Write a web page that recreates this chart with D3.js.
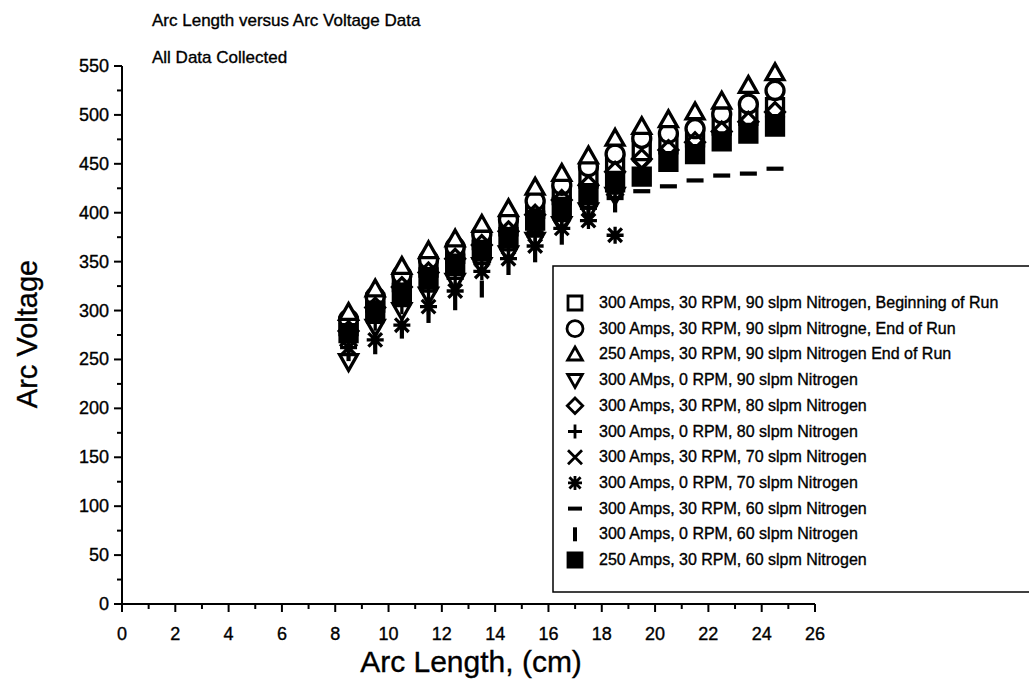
<!DOCTYPE html>
<html>
<head>
<meta charset="utf-8">
<script src="https://cdn.jsdelivr.net/npm/d3@7"></script>
<style>
  body { margin: 0; background: #fff; }
  svg { font-family: "Liberation Sans", Arial, sans-serif; }
  svg text { fill: #000; stroke: #000; stroke-width: 0.35px; }
</style>
</head>
<body>
<div id="chart"></div>
<script>
// arc lengths (cm) where readings were taken
const arcLengths = [8.5, 9.5, 10.5, 11.5, 12.5, 13.5, 14.5, 15.5, 16.5, 17.5, 18.5, 19.5, 20.5, 21.5, 22.5, 23.5, 24.5]

// arc voltage per series (30 RPM runs cover all lengths, 0 RPM runs stop at 18.5)
const v300Rpm30N90Begin = [284, 308, 329, 344, 358, 372, 386, 404, 418, 435, 450, 463, 470, 477, 489, 499, 508]
const v300Rpm30N90End   = [291, 314, 336, 352, 365, 378, 393, 412, 428, 447, 460, 476, 481, 486, 501, 511, 525]
const v250Rpm30N90End   = [298, 322, 345, 361, 373, 388, 404, 426, 440, 458, 476, 488, 495, 503, 514, 530, 543]
const v300Rpm0N90       = [248, 283, 300, 316, 330, 346, 358, 372, 388, 402, 418]
const v300Rpm30N80      = [279, 303, 324, 339, 353, 367, 381, 398, 413, 428, 442, 455, 464, 472, 483, 493, 503]
const v300Rpm0N80       = [268, 288, 305, 320, 333, 348, 362, 376, 392, 405, 420]
const v300Rpm30N70      = [272, 295, 313, 328, 343, 357, 370, 386, 400, 414, 426, 445, 458, 466, 478, 487, 496]
const v300Rpm0N70       = [262, 270, 285, 304, 320, 340, 353, 366, 384, 392, 377]
const v300Rpm30N60      = [270, 292, 310, 326, 340, 352, 366, 380, 394, 405, 415, 422, 427, 433, 438, 440, 445]
const v300Rpm0N60       = [257, 264, 280, 296, 309, 322, 345, 358, 376, 396, 409]
const v250Rpm30N60      = [277, 300, 318, 334, 348, 362, 375, 392, 406, 420, 431, 437, 452, 460, 473, 481, 488]

const legendLabels = [
  "300 Amps, 30 RPM, 90 slpm Nitrogen, Beginning of Run",
  "300 Amps, 30 RPM, 90 slpm Nitrogne, End of Run",
  "250 Amps, 30 RPM, 90 slpm Nitrogen End of Run",
  "300 AMps, 0 RPM, 90 slpm Nitrogen",
  "300 Amps, 30 RPM, 80 slpm Nitrogen",
  "300 Amps, 0 RPM, 80 slpm Nitrogen",
  "300 Amps, 30 RPM, 70 slpm Nitrogen",
  "300 Amps, 0 RPM, 70 slpm Nitrogen",
  "300 Amps, 30 RPM, 60 slpm Nitrogen",
  "300 Amps, 0 RPM, 60 slpm Nitrogen",
  "250 Amps, 30 RPM, 60 slpm Nitrogen"
]
const shapes = ["square", "circle", "triangle", "triangleDown", "diamond", "plus", "cross", "asterisk", "dash", "bar", "filledSquare"]
const seriesValues = [v300Rpm30N90Begin, v300Rpm30N90End, v250Rpm30N90End, v300Rpm0N90, v300Rpm30N80,
  v300Rpm0N80, v300Rpm30N70, v300Rpm0N70, v300Rpm30N60, v300Rpm0N60, v250Rpm30N60]

const xTicks = [0, 2, 4, 6, 8, 10, 12, 14, 16, 18, 20, 22, 24, 26]
const yTicks = [0, 50, 100, 150, 200, 250, 300, 350, 400, 450, 500, 550]

const series = seriesValues.map((vals, i) => ({
  label: legendLabels[i],
  shape: shapes[i],
  points: vals.map((v, j) => ({ x: arcLengths[j], y: v }))
}))

const width = 1029, height = 700

const svg = d3.select("#chart").append("svg")
  .attr("width", width)
  .attr("height", height)

const x = d3.scaleLinear().domain([0, 26]).range([122, 815])
const y = d3.scaleLinear().domain([0, 550]).range([604, 66])

// marker shapes, drawn around (0,0) with half size r
function markerPath(shape, r) {
  const p = d3.path()
  switch (shape) {
    case "square":
    case "filledSquare":
      p.rect(-r, -r, 2 * r, 2 * r); break
    case "circle":
      p.moveTo(r, 0); p.arc(0, 0, r, 0, 2 * Math.PI); break
    case "triangle":
      p.moveTo(0, -r * 1.05); p.lineTo(r * 1.05, r * 0.8); p.lineTo(-r * 1.05, r * 0.8); p.closePath(); break
    case "triangleDown":
      p.moveTo(0, r * 1.05); p.lineTo(r * 1.05, -r * 0.8); p.lineTo(-r * 1.05, -r * 0.8); p.closePath(); break
    case "diamond":
      p.moveTo(0, -r * 1.1); p.lineTo(r * 1.1, 0); p.lineTo(0, r * 1.1); p.lineTo(-r * 1.1, 0); p.closePath(); break
    case "plus":
      p.moveTo(0, -r); p.lineTo(0, r); p.moveTo(-r, 0); p.lineTo(r, 0); break
    case "cross":
      p.moveTo(-r, -r); p.lineTo(r, r); p.moveTo(r, -r); p.lineTo(-r, r); break
    case "asterisk":
      p.moveTo(-r * 0.8, -r * 0.8); p.lineTo(r * 0.8, r * 0.8); p.moveTo(r * 0.8, -r * 0.8); p.lineTo(-r * 0.8, r * 0.8)
      p.moveTo(0, -r); p.lineTo(0, r); p.moveTo(-r, 0); p.lineTo(r, 0); break
    case "dash":
      p.moveTo(-r, 0); p.lineTo(r, 0); break
    case "bar":
      p.moveTo(0, -r); p.lineTo(0, r); break
  }
  return p.toString()
}
const fillFor = s => s === "filledSquare" ? "#000" : ((s === "triangle" || s === "circle") ? "#fff" : "none")
const strokeFor = s => (s === "dash" || s === "bar") ? 4 : 2.8

// titles
svg.append("text").attr("x", 152).attr("y", 26).attr("font-size", 17).text("Arc Length versus Arc Voltage Data")
svg.append("text").attr("x", 152).attr("y", 63).attr("font-size", 17).text("All Data Collected")

// axes
const axisG = svg.append("g").attr("stroke", "#000").attr("stroke-width", 2)
axisG.append("line").attr("x1", x(0)).attr("x2", x(26)).attr("y1", y(0)).attr("y2", y(0))
axisG.append("line").attr("x1", x(0)).attr("x2", x(0)).attr("y1", y(0) + 1).attr("y2", y(550))

const xMinor = d3.range(0, 27, 1)
axisG.selectAll(".xt").data(xMinor).join("line")
  .attr("x1", d => x(d)).attr("x2", d => x(d))
  .attr("y1", y(0)).attr("y2", d => y(0) + (d % 2 === 0 ? 8 : 5))

const yMinor = d3.range(0, 551, 25)
axisG.selectAll(".yt").data(yMinor).join("line")
  .attr("y1", d => y(d)).attr("y2", d => y(d))
  .attr("x1", x(0)).attr("x2", d => x(0) - (d % 50 === 0 ? 8 : 5))

svg.append("g").selectAll("text").data(xTicks).join("text")
  .attr("x", d => x(d)).attr("y", 640)
  .attr("text-anchor", "middle").attr("font-size", 18)
  .text(d => d)

svg.append("g").selectAll("text").data(yTicks).join("text")
  .attr("x", 109).attr("y", d => y(d) + 6)
  .attr("text-anchor", "end").attr("font-size", 18)
  .text(d => d)

svg.append("text").attr("x", 471).attr("y", 672)
  .attr("text-anchor", "middle").attr("font-size", 30).text("Arc Length, (cm)")
svg.append("text").attr("transform", "translate(37,334) rotate(-90)")
  .attr("text-anchor", "middle").attr("font-size", 29).text("Arc Voltage")

// data points
const plot = svg.append("g")
series.forEach(s => {
  plot.append("g").selectAll("path").data(s.points).join("path")
    .attr("transform", d => `translate(${x(d.x)},${y(d.y)})`)
    .attr("d", markerPath(s.shape, s.shape === "circle" ? 9 : 8.5))
    .attr("fill", fillFor(s.shape))
    .attr("stroke", "#000")
    .attr("stroke-width", s.shape === "dash" || s.shape === "bar" ? 4.2 : 3.3)
})

// legend
const legend = svg.append("g")
legend.append("rect")
  .attr("x", 553).attr("y", 266).attr("width", 520).attr("height", 326)
  .attr("fill", "#fff").attr("stroke", "#000").attr("stroke-width", 1.5)

const rowY = d3.scaleLinear().domain([0, 10]).range([303, 560])
const rows = legend.selectAll(".row").data(series).join("g")
  .attr("transform", (d, i) => `translate(575,${rowY(i)})`)
rows.append("path")
  .attr("d", d => markerPath(d.shape, d.shape === "circle" ? 8 : 7))
  .attr("fill", d => fillFor(d.shape))
  .attr("stroke", "#000")
  .attr("stroke-width", d => strokeFor(d.shape))
rows.append("text")
  .attr("x", 24).attr("y", 5)
  .attr("font-size", 16)
  .text(d => d.label)
</script>
</body>
</html>
